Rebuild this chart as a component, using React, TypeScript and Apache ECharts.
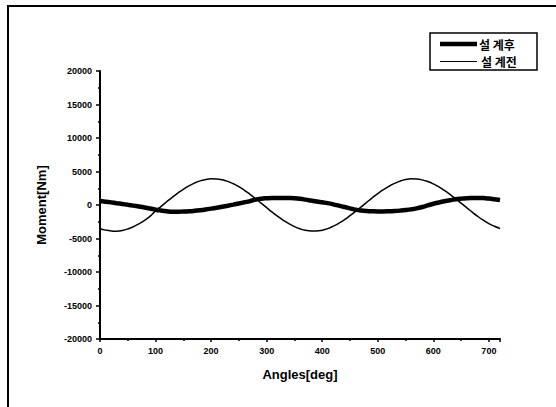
import React, { useEffect, useRef } from "react";
import * as echarts from "echarts";

const angles: number[] = [];
for (let a = 0; a <= 720; a += 10) angles.push(a);

// 설계후 (thick)
const afterValues = [
  600, 500, 390, 270, 150, 30, -90, -220, -360, -520,
  -700, -830, -930, -990, -1000, -980, -940, -870, -780, -670,
  -540, -400, -250, -100, 60, 230, 400, 580, 800, 940,
  1010, 1050, 1060, 1060, 1040, 1000, 920, 800, 660, 520,
  400, 280, 100, -100, -300, -500, -690, -820, -900, -940,
  -960, -960, -940, -900, -840, -760, -650, -500, -300, -60,
  180, 380, 560, 720, 860, 950, 1010, 1040, 1050, 1030,
  960, 860, 750,
];

// 설계전 (thin)
const beforeValues = [
  -3550, -3750, -3870, -3900, -3800, -3580, -3250, -2820, -2300, -1700,
  -880, -200, 480, 1150, 1780, 2350, 2860, 3270, 3600, 3800,
  3900, 3890, 3760, 3520, 3170, 2730, 2200, 1600, 960, 280,
  -400, -1070, -1700, -2280, -2790, -3220, -3550, -3780, -3880, -3880,
  -3760, -3520, -3160, -2720, -2200, -1600, -960, -290, 400, 1070,
  1700, 2280, 2790, 3220, 3560, 3790, 3900, 3880, 3750, 3500,
  3150, 2700, 2170, 1580, 940, 270, -400, -1070, -1700, -2270,
  -2780, -3180, -3500,
];

const seriesNames = ["설 계후", "설 계전"];

export default function App() {
  const ref = useRef<HTMLDivElement>(null);
  useEffect(() => {
    if (!ref.current) return;
    const chart = echarts.init(ref.current, undefined, { renderer: "svg" });
    const font = "'Liberation Sans', Arial, sans-serif";
    const kfont = "bold 12px 'Noto Sans CJK KR', sans-serif";
    chart.setOption({
      animation: false,
      backgroundColor: "#ffffff",
      grid: { left: 100, right: 56, top: 71, bottom: 68 },
      xAxis: {
        type: "value",
        min: 0,
        max: 720,
        interval: 100,
        name: "Angles[deg]",
        nameLocation: "middle",
        nameGap: 29,
        nameTextStyle: { fontSize: 13, fontWeight: "bold", color: "#000", fontFamily: font },
        axisLine: { show: true, onZero: false, lineStyle: { color: "#000", width: 2 } },
        axisTick: { show: true, length: 3, lineStyle: { color: "#000", width: 1.5 } },
        minorTick: { show: true, splitNumber: 2, length: 2, lineStyle: { color: "#000", width: 1.5 } },
        axisLabel: {
          showMaxLabel: false,
          fontSize: 9,
          fontWeight: "bold",
          color: "#000",
          margin: 7,
          fontFamily: font,
          formatter: (v: number) => String(v),
        },
        splitLine: { show: false },
      },
      yAxis: {
        type: "value",
        min: -20000,
        max: 20000,
        interval: 5000,
        name: "Moment[Nm]",
        nameLocation: "middle",
        nameGap: 52,
        nameTextStyle: { fontSize: 13, fontWeight: "bold", color: "#000", fontFamily: font },
        axisLine: { show: true, onZero: false, lineStyle: { color: "#000", width: 2 } },
        axisTick: { show: true, length: 4, lineStyle: { color: "#000", width: 1.5 } },
        minorTick: { show: true, splitNumber: 2, length: 2, lineStyle: { color: "#000", width: 1.5 } },
        axisLabel: {
          fontSize: 9,
          fontWeight: "bold",
          color: "#000",
          margin: 8,
          fontFamily: font,
          formatter: (v: number) => String(v),
        },
        splitLine: { show: false },
      },
      graphic: [
        { type: "line", shape: { x1: 7, y1: 6, x2: 556, y2: 6 }, style: { stroke: "#000", lineWidth: 2 } },
        { type: "line", shape: { x1: 8, y1: 6, x2: 8, y2: 407 }, style: { stroke: "#000", lineWidth: 2 } },
        { type: "rect", shape: { x: 430, y: 33, width: 107, height: 37 }, style: { fill: "#fff", stroke: "#000", lineWidth: 1.5 } },
        { type: "line", shape: { x1: 440, y1: 44, x2: 477, y2: 44 }, style: { stroke: "#000", lineWidth: 4.5 } },
        { type: "line", shape: { x1: 440, y1: 61.5, x2: 477, y2: 61.5 }, style: { stroke: "#000", lineWidth: 1.2 } },
        { type: "text", x: 479, y: 44, style: { text: seriesNames[0], font: kfont, fill: "#000", textVerticalAlign: "middle", verticalAlign: "middle" } },
        { type: "text", x: 481, y: 61.5, style: { text: seriesNames[1], font: kfont, fill: "#000", textVerticalAlign: "middle", verticalAlign: "middle" } },
      ],
      series: [
        {
          name: seriesNames[0],
          type: "line",
          data: angles.map((a, i) => [a, afterValues[i]]),
          symbol: "none",
          smooth: true,
          lineStyle: { color: "#000", width: 4.5 },
          itemStyle: { color: "#000" },
        },
        {
          name: seriesNames[1],
          type: "line",
          data: angles.map((a, i) => [a, beforeValues[i]]),
          symbol: "none",
          smooth: true,
          lineStyle: { color: "#000", width: 1.5 },
          itemStyle: { color: "#000" },
        },
      ],
    });
    return () => chart.dispose();
  }, []);
  return (
    <div
      ref={ref}
      style={{ position: "fixed", left: 0, top: 0, width: 556, height: 407 }}
    />
  );
}
